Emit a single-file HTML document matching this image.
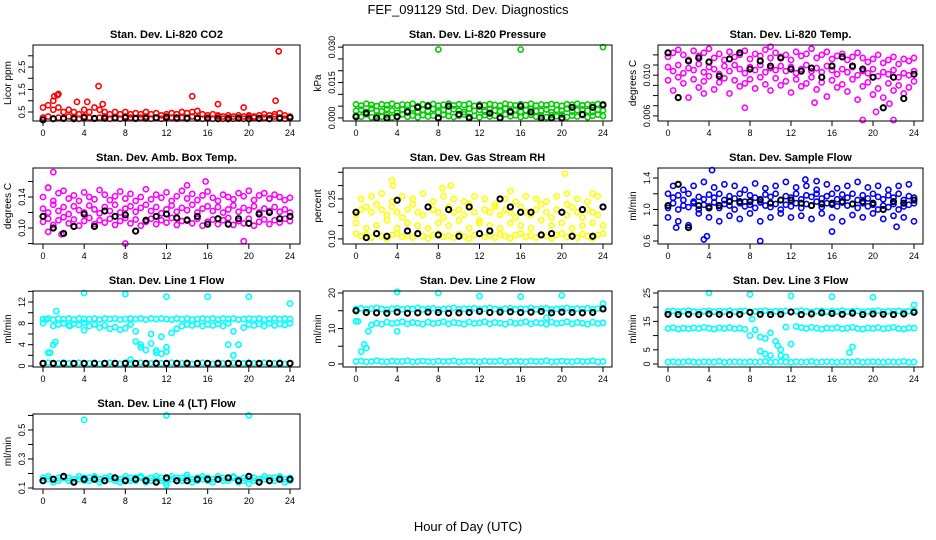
<!DOCTYPE html>
<html><head><meta charset="utf-8"><style>
body{margin:0;background:#fff}
svg{display:block;font-family:"Liberation Sans",sans-serif}
</style></head><body>
<svg id="c" width="936" height="540" viewBox="0 0 936 540">
<text x="468" y="14" font-size="13" text-anchor="middle">FEF_091129  Std. Dev. Diagnostics</text>
<text x="468" y="531" font-size="13" text-anchor="middle">Hour of Day (UTC)</text>
</svg>
<script>
// ---------- DATA (values indexed every 0.5 h for bands, every 1 h for black) ----------
const xTicks=[0,4,8,12,16,20,24];
const co2A=[0.25,0.3,0.2,0.25,0.2,0.3,0.25,0.2,0.3,0.25,0.2,0.25,0.3,0.2,0.25,0.2,0.3,0.25,0.2,0.25,0.3,0.2,0.25,0.2,0.3,0.25,0.2,0.25,0.2,0.3,0.25,0.2,0.25,0.2,0.3,0.2,0.25,0.2,0.25,0.2,0.3,0.25,0.2,0.25,0.2,0.3,0.25,0.2,0.25];
const co2B=[0.7,0.8,0.6,0.7,0.5,0.6,0.5,0.4,0.6,0.5,0.7,0.6,0.5,0.4,0.5,0.4,0.5,0.4,0.45,0.4,0.5,0.4,0.45,0.35,0.4,0.45,0.4,0.5,0.45,0.5,0.55,0.4,0.35,0.4,0.35,0.3,0.35,0.3,0.35,0.3,0.35,0.3,0.35,0.4,0.35,0.4,0.45,0.35,0.3];
const co2Out=[[1,1.0],[1.1,1.2],[1.4,1.25],[1.5,1.3],[5.4,1.65],[5.8,0.85],[4.3,0.95],[3.3,0.95],[14.5,1.2],[17,0.85],[19.5,0.7],[22.9,3.2],[22.6,1.0]];
const co2K=[0.15,0.2,0.22,0.2,0.25,0.22,0.22,0.23,0.25,0.22,0.22,0.24,0.26,0.24,0.23,0.22,0.22,0.2,0.2,0.22,0.2,0.22,0.2,0.22,0.25];

const prA=[0.001,0.0005,0.0015,0.0003,0.001,0.0005,0.0012,0.0002,0.0008,0.0015,0.0005,0.001,0.0003,0.0012,0.0006,0.001,0.0002,0.0014,0.0008,0.0004,0.001,0.0015,0.0005,0.0009,0.0003,0.0012,0.0006,0.001,0.0002,0.0015,0.0007,0.0011,0.0004,0.0009,0.0013,0.0005,0.001,0.0003,0.0012,0.0007,0.0014,0.0004,0.001,0.0006,0.0012,0.0003,0.0009,0.0014,0.0008];
const prB=[0.003,0.0035,0.0025,0.004,0.003,0.0028,0.0038,0.0032,0.0022,0.0036,0.003,0.004,0.0026,0.0034,0.003,0.0038,0.0024,0.0033,0.0029,0.0037,0.0031,0.0025,0.0039,0.003,0.0034,0.0027,0.0036,0.0032,0.0028,0.004,0.003,0.0035,0.0026,0.0033,0.0038,0.0029,0.0031,0.0036,0.0024,0.0034,0.003,0.0039,0.0027,0.0033,0.0036,0.003,0.0025,0.0035,0.0032];
const prC=[0.0058,0.0052,0.006,0.0055,0.005,0.0058,0.0054,0.006,0.0052,0.0057,0.0055,0.006,0.005,0.0058,0.0054,0.0059,0.0052,0.0056,0.006,0.0053,0.0058,0.0055,0.006,0.0051,0.0057,0.0054,0.0059,0.0055,0.0052,0.006,0.0056,0.0053,0.0058,0.0055,0.006,0.0052,0.0057,0.0054,0.0059,0.0055,0.0051,0.0058,0.0056,0.006,0.0053,0.0057,0.0055,0.0059,0.0058];
const prOut=[[8,0.029],[16,0.029],[24,0.030]];
const prK=[0.0005,0.002,0.0,0.0,0.0005,0.0025,0.0045,0.005,0.0,0.005,0.0015,0.0,0.005,0.002,0.0,0.0025,0.005,0.0025,0.0,0.0,0.0,0.0045,0.0015,0.0045,0.0055];

const tA=[0.0118,0.0122,0.0125,0.012,0.0115,0.0124,0.0119,0.0122,0.0126,0.0117,0.0121,0.0115,0.0123,0.0118,0.012,0.0124,0.0116,0.0121,0.0119,0.0125,0.0117,0.0122,0.0118,0.012,0.0115,0.0123,0.0119,0.0121,0.0126,0.0117,0.012,0.0123,0.0116,0.0119,0.0121,0.0115,0.0118,0.0122,0.0117,0.0113,0.0116,0.012,0.0112,0.0115,0.0118,0.0111,0.0116,0.0114,0.0117];
const tB=[0.0108,0.0104,0.011,0.0102,0.0107,0.0105,0.0111,0.0103,0.0108,0.0106,0.0101,0.0109,0.0104,0.011,0.0106,0.0102,0.0108,0.0105,0.011,0.0103,0.0107,0.0105,0.0109,0.0104,0.0108,0.0102,0.0106,0.011,0.0104,0.0107,0.0103,0.0109,0.0105,0.0101,0.0106,0.0103,0.0108,0.01,0.0104,0.0102,0.0106,0.0099,0.0103,0.0101,0.0105,0.0098,0.0102,0.01,0.0104];
const tC=[0.0095,0.0085,0.0098,0.0092,0.0078,0.0096,0.0088,0.0094,0.0099,0.0086,0.0093,0.0097,0.0082,0.0095,0.0089,0.0092,0.0096,0.0087,0.0098,0.0091,0.0085,0.0097,0.009,0.0094,0.0083,0.0096,0.0089,0.0092,0.0098,0.0086,0.0093,0.0079,0.0095,0.0088,0.0091,0.0084,0.0096,0.0076,0.0089,0.0093,0.0081,0.0087,0.0078,0.0092,0.0085,0.009,0.0082,0.0088,0.0094];
const tOut=[[3.5,0.0082],[7.5,0.0068],[14.3,0.0073],[19,0.0056],[20.3,0.0064],[22,0.0056],[21.6,0.0072],[10,0.0128]];
const tK=[0.0122,0.0078,0.0114,0.0117,0.0113,0.0099,0.0116,0.0122,0.0106,0.0114,0.0109,0.0117,0.0106,0.0104,0.0107,0.0098,0.0109,0.0118,0.0109,0.0106,0.0098,0.0068,0.0098,0.0077,0.0101];

const aA=[0.125,0.12,0.13,0.122,0.127,0.118,0.128,0.123,0.12,0.129,0.124,0.119,0.127,0.122,0.13,0.12,0.125,0.128,0.121,0.126,0.13,0.122,0.127,0.119,0.124,0.129,0.121,0.126,0.123,0.13,0.12,0.125,0.128,0.122,0.127,0.12,0.124,0.129,0.121,0.126,0.123,0.128,0.12,0.125,0.122,0.127,0.121,0.124,0.12];
const aB=[0.108,0.112,0.104,0.11,0.114,0.106,0.111,0.103,0.109,0.113,0.105,0.11,0.107,0.112,0.104,0.109,0.113,0.106,0.111,0.103,0.108,0.112,0.105,0.11,0.107,0.113,0.104,0.109,0.111,0.106,0.112,0.103,0.108,0.111,0.105,0.11,0.113,0.104,0.109,0.106,0.112,0.103,0.108,0.111,0.105,0.11,0.107,0.112,0.109];
const aC=[0.14,0.152,0.135,0.145,0.148,0.138,0.142,0.135,0.146,0.14,0.137,0.149,0.143,0.136,0.141,0.147,0.138,0.144,0.135,0.14,0.15,0.137,0.143,0.139,0.146,0.135,0.141,0.148,0.138,0.144,0.136,0.142,0.147,0.139,0.135,0.143,0.14,0.137,0.145,0.141,0.148,0.136,0.142,0.145,0.138,0.143,0.14,0.136,0.139];
const aOut=[[1.0,0.172],[0.5,0.152],[14.0,0.155],[15.8,0.16],[8,0.08],[19.5,0.083],[0.5,0.095],[1.8,0.092]];
const aK=[0.115,0.1,0.093,0.102,0.118,0.102,0.122,0.115,0.117,0.096,0.11,0.115,0.118,0.113,0.11,0.115,0.105,0.112,0.105,0.112,0.106,0.118,0.12,0.112,0.115];

const gA=[0.12,0.11,0.115,0.105,0.12,0.11,0.1,0.115,0.12,0.108,0.113,0.105,0.118,0.11,0.102,0.115,0.12,0.108,0.112,0.105,0.118,0.11,0.1,0.115,0.12,0.107,0.113,0.105,0.118,0.11,0.103,0.115,0.12,0.108,0.112,0.105,0.118,0.11,0.102,0.115,0.12,0.107,0.113,0.105,0.118,0.11,0.102,0.115,0.12];
const gB=[0.19,0.21,0.22,0.2,0.23,0.21,0.19,0.22,0.2,0.18,0.21,0.23,0.2,0.19,0.22,0.21,0.2,0.18,0.22,0.2,0.21,0.19,0.23,0.2,0.17,0.21,0.2,0.22,0.19,0.21,0.2,0.18,0.22,0.2,0.19,0.21,0.23,0.2,0.18,0.21,0.2,0.19,0.22,0.2,0.18,0.21,0.2,0.19,0.22];
const gC=[0.16,0.25,0.14,0.26,0.15,0.27,0.17,0.24,0.14,0.26,0.16,0.25,0.15,0.27,0.14,0.24,0.16,0.26,0.15,0.25,0.17,0.24,0.14,0.26,0.16,0.25,0.15,0.23,0.14,0.25,0.16,0.24,0.15,0.26,0.14,0.25,0.17,0.24,0.15,0.26,0.16,0.23,0.14,0.25,0.15,0.24,0.16,0.26,0.15];
const gOut=[[3.5,0.32],[3.6,0.3],[8.4,0.29],[9.2,0.3],[15,0.28],[20.3,0.345],[20.5,0.27],[23,0.27]];
const gK=[0.2,0.105,0.12,0.11,0.245,0.13,0.12,0.22,0.115,0.21,0.11,0.22,0.12,0.13,0.25,0.22,0.2,0.2,0.115,0.12,0.2,0.11,0.21,0.11,0.22];

const sA=[1.2,1.15,1.18,1.12,1.2,1.1,1.16,1.13,1.19,1.15,1.2,1.12,1.17,1.14,1.2,1.1,1.18,1.15,1.13,1.19,1.16,1.2,1.12,1.17,1.15,1.2,1.13,1.18,1.16,1.2,1.14,1.17,1.2,1.13,1.19,1.15,1.2,1.12,1.18,1.14,1.2,1.16,1.13,1.18,1.15,1.2,1.12,1.17,1.15];
const sB=[1.02,1.08,1.0,1.05,1.03,1.08,1.0,1.06,1.04,1.09,1.02,1.07,1.05,1.0,1.08,1.04,1.06,1.02,1.09,1.05,1.03,1.07,1.0,1.06,1.04,1.08,1.02,1.07,1.05,1.1,1.03,1.08,1.06,1.04,1.09,1.05,1.07,1.02,1.08,1.04,1.06,1.0,1.05,1.03,1.07,1.0,1.04,1.06,1.08];
const sC=[0.9,1.3,0.85,1.25,0.8,1.3,0.95,1.35,0.9,1.28,0.85,1.32,0.92,1.3,0.88,1.25,0.95,1.33,0.85,1.27,0.9,1.3,0.95,1.35,0.9,1.28,0.92,1.3,0.88,1.25,0.95,1.32,0.9,1.27,0.85,1.3,0.93,1.35,0.9,1.28,0.95,1.3,0.88,1.25,0.92,1.3,0.9,1.32,0.85];
const sOut=[[4.3,1.5],[3.5,0.62],[3.8,0.66],[9,0.6],[0.8,0.77],[16,0.72],[22.3,0.78],[14.5,1.36],[13.4,1.38]];
const sK=[1.05,1.32,0.77,1.05,1.02,1.05,1.1,1.1,1.1,1.12,1.08,1.12,1.12,1.08,1.05,1.07,1.08,1.1,1.07,1.1,1.08,1.0,1.1,1.08,1.12];

const l1A=[8.8,8.9,8.7,8.9,8.8,8.9,8.7,8.9,8.8,8.8,8.9,8.7,8.9,8.8,8.9,8.7,8.8,8.9,8.8,8.9,8.7,8.9,8.8,8.9,8.8,8.7,8.9,8.8,8.9,8.7,8.8,8.9,8.8,8.9,8.7,8.9,8.8,8.9,8.7,8.8,8.9,8.8,8.9,8.7,8.8,8.9,8.8,8.9,8.8];
const l1B=[8.0,2.5,7.5,7.8,8.0,7.6,7.9,7.7,8.1,7.5,7.8,7.2,7.6,7.0,7.3,6.8,7.1,7.8,6.5,4.0,3.0,6.0,2.5,5.5,3.5,6.2,7.0,7.5,7.8,7.6,7.9,7.5,7.8,7.6,7.9,7.5,8.0,6.5,4.0,7.2,7.8,7.6,7.9,7.5,8.0,7.6,7.9,7.7,8.0];
const l1C=[0.5,0.6,0.4,0.5,0.6,0.5,0.4,0.6,0.5,0.5,0.6,0.4,0.5,0.6,0.5,0.4,0.6,0.5,0.5,0.6,0.4,0.5,0.6,0.5,0.4,0.6,0.5,0.5,0.6,0.4,0.5,0.6,0.5,0.4,0.6,0.5,0.5,0.6,0.4,0.5,0.6,0.5,0.4,0.6,0.5,0.5,0.6,0.4,0.5];
const l1Out=[[0.3,8.7],[0.7,2.5],[1,4],[1.2,4.5],[1.3,10.3],[4,13.7],[4,6.7],[8,13.5],[8.5,1.2],[9,4.6],[9.5,3.5],[10.5,4.2],[11,2.9],[11.5,2.3],[12,13],[12,2.7],[16,13],[20,13],[24,11.7],[18,4],[18.5,2],[2.6,7.5]];
const l1K=[0.5,0.5,0.5,0.5,0.5,0.5,0.5,0.5,0.5,0.5,0.5,0.5,0.5,0.5,0.5,0.5,0.5,0.5,0.5,0.5,0.5,0.5,0.5,0.5,0.5];

const l2A=[15.5,15.7,15.4,15.6,15.8,15.5,15.3,15.6,15.7,15.4,15.6,15.5,15.8,15.4,15.6,15.7,15.3,15.5,15.6,15.8,15.4,15.6,15.5,15.7,15.4,15.6,15.8,15.5,15.3,15.6,15.7,15.4,15.6,15.5,15.8,15.4,15.6,15.7,15.3,15.5,15.6,15.8,15.4,15.6,15.5,15.7,15.4,15.6,15.8];
const l2B=[12,3.5,4.5,11,11.5,11.2,11.8,11.4,11.6,11.9,11.3,11.7,11.5,11.2,11.8,11.4,11.6,11.9,11.3,11.7,11.5,11.2,11.8,11.4,11.6,11.9,11.3,11.7,11.5,11.2,11.8,11.4,11.6,11.9,11.3,11.7,11.5,11.2,11.8,11.4,11.6,11.9,11.3,11.7,11.5,11.2,11.8,11.4,11.6];
const l2C=[0.7,0.8,0.6,0.7,0.9,0.7,0.6,0.8,0.7,0.7,0.9,0.6,0.7,0.8,0.7,0.6,0.8,0.7,0.7,0.9,0.6,0.7,0.8,0.7,0.6,0.8,0.7,0.7,0.9,0.6,0.7,0.8,0.7,0.6,0.8,0.7,0.7,0.9,0.6,0.7,0.8,0.7,0.6,0.8,0.7,0.7,0.9,0.6,0.7];
const l2Out=[[4,20.3],[8,20],[12,19.1],[16,19],[20,19.3],[4,9.2],[24,17],[0.8,5.5],[1.2,9.2],[18.5,13],[0.2,12]];
const l2K=[15,14.5,14.4,14.3,14.6,14.3,14.4,14.6,14.5,14.3,14.4,14.5,14.8,14.5,14.6,14.7,14.5,14.6,14.8,14.4,14.6,14.5,14.4,14.5,15.5];

const l3A=[18.5,18.7,18.4,18.6,18.8,18.5,18.3,18.6,18.7,18.4,18.6,18.5,18.8,18.4,18.6,18.7,18.3,18.5,18.6,18.8,18.4,18.6,18.5,18.7,18.4,18.6,18.8,18.5,18.3,18.6,18.7,18.4,18.6,18.5,18.8,18.4,18.6,18.7,18.3,18.5,18.6,18.8,18.4,18.6,18.5,18.7,18.4,18.6,18.8];
const l3B=[12.5,12.8,12.3,12.6,12.4,12.7,12.5,12.9,12.6,12.3,12.7,12.5,12.8,12.4,12.6,12.2,10,12,4.5,9,3,8,3,13,7,13.2,12.8,12.5,12.9,12.6,12.3,12.7,12.5,12.8,12.4,12.6,12.9,12.5,12.3,12.7,12.5,12.8,12.4,12.6,12.9,12.5,12.3,12.7,12.6];
const l3C=[0.7,0.8,0.6,0.7,0.9,0.7,0.6,0.8,0.7,0.7,0.9,0.6,0.7,0.8,0.7,0.6,0.8,0.7,0.7,0.9,0.6,0.7,0.8,0.7,0.6,0.8,0.7,0.7,0.9,0.6,0.7,0.8,0.7,0.6,0.8,0.7,0.7,0.9,0.6,0.7,0.8,0.7,0.6,0.8,0.7,0.7,0.9,0.6,0.7];
const l3Out=[[4,25],[8,24.5],[12,24],[16,23.7],[20,23.5],[24,20.8],[8.2,15.8],[10.7,6.5],[11,5],[11.5,2.5],[17.7,4],[18,6],[9.5,3.5],[9,9.5],[10,11]];
const l3K=[17.5,17.4,17.5,17.4,17.6,17.5,17.4,17.5,18.2,17.5,17.4,17.5,18.3,17.4,17.6,18,17.8,17.5,17.9,17.4,17.6,17.5,17.4,17.6,18.2];

const qA=[0.15,0.16,0.14,0.15,0.17,0.15,0.14,0.16,0.15,0.15,0.17,0.14,0.15,0.16,0.15,0.14,0.16,0.15,0.15,0.17,0.14,0.15,0.16,0.15,0.14,0.16,0.15,0.15,0.17,0.14,0.15,0.16,0.15,0.14,0.16,0.15,0.15,0.17,0.14,0.15,0.16,0.15,0.14,0.16,0.15,0.15,0.17,0.14,0.15];
const qB=[0.17,0.18,0.16,0.17,0.18,0.17,0.16,0.18,0.17,0.17,0.18,0.16,0.17,0.18,0.17,0.16,0.18,0.17,0.17,0.18,0.16,0.17,0.18,0.17,0.16,0.18,0.17,0.17,0.19,0.16,0.17,0.18,0.17,0.16,0.18,0.17,0.17,0.18,0.16,0.17,0.18,0.17,0.16,0.18,0.17,0.17,0.18,0.16,0.17];
const qOut=[[4,0.57],[12,0.6],[20,0.6],[20,0.13],[12,0.12]];
const qK=[0.15,0.16,0.18,0.14,0.16,0.16,0.15,0.17,0.15,0.16,0.15,0.14,0.17,0.15,0.15,0.16,0.16,0.16,0.17,0.15,0.18,0.14,0.15,0.16,0.16];

// ---------- LAYOUT ----------
const cols=[{l:33,r:300,x0:43,x1:290},{l:343,r:612,x0:356,x1:603},{l:658,r:923,x0:668,x1:914}];
const rows=[{t:45,b:121},{t:168,b:244},{t:291,b:367},{t:414,b:489}];
const panels=[
 {id:'co2',title:'Stan. Dev. Li-820 CO2',ylab:'Licor ppm',c:0,r:0,ymin:0.1,ymax:3.48,ticks:[0.5,1,1.5,2,2.5,3],labels:[0.5,1.5,2.5],fmt:1,color:'#ff0000',bands:[co2A,co2B],out:co2Out,blk:co2K},
 {id:'pressure',title:'Stan. Dev. Li-820 Pressure',ylab:'kPa',c:1,r:0,ymin:-0.0013,ymax:0.0309,ticks:[0,0.005,0.01,0.015,0.02,0.025,0.03],labels:[0,0.015,0.03],fmt:3,color:'#00cc00',bands:[prA,prB,prC],out:prOut,blk:prK},
 {id:'temp',title:'Stan. Dev. Li-820 Temp.',ylab:'degrees C',c:2,r:0,ymin:0.0055,ymax:0.01297,ticks:[0.006,0.007,0.008,0.009,0.01,0.011,0.012],labels:[0.006,0.01],fmt:3,color:'#ff00ff',bands:[tA,tB,tC],out:tOut,blk:tK},
 {id:'ambtemp',title:'Stan. Dev. Amb. Box Temp.',ylab:'degrees C',c:0,r:1,ymin:0.0794,ymax:0.1774,ticks:[0.08,0.1,0.12,0.14,0.16],labels:[0.1,0.14],fmt:2,color:'#ff00ff',bands:[aA,aB,aC],out:aOut,blk:aK},
 {id:'rh',title:'Stan. Dev. Gas Stream RH',ylab:'percent',c:1,r:1,ymin:0.081,ymax:0.366,ticks:[0.1,0.15,0.2,0.25,0.3,0.35],labels:[0.1,0.25],fmt:2,color:'#ffff00',bands:[gA,gB,gC],out:gOut,blk:gK},
 {id:'sampleflow',title:'Stan. Dev. Sample Flow',ylab:'ml/min',c:2,r:1,ymin:0.562,ymax:1.527,ticks:[0.6,0.8,1,1.2,1.4],labels:[0.6,1,1.4],fmt:1,color:'#0000ff',bands:[sA,sB,sC],out:sOut,blk:sK},
 {id:'line1',title:'Stan. Dev. Line 1 Flow',ylab:'ml/min',c:0,r:2,ymin:-0.19,ymax:14.07,ticks:[0,2,4,6,8,10,12,14],labels:[0,4,8,12],fmt:0,color:'#00ffff',bands:[l1A,l1B,l1C],out:l1Out,blk:l1K},
 {id:'line2',title:'Stan. Dev. Line 2 Flow',ylab:'ml/min',c:1,r:2,ymin:-0.85,ymax:20.56,ticks:[0,5,10,15,20],labels:[0,10,20],fmt:0,color:'#00ffff',bands:[l2A,l2B,l2C],out:l2Out,blk:l2K},
 {id:'line3',title:'Stan. Dev. Line 3 Flow',ylab:'ml/min',c:2,r:2,ymin:-1.06,ymax:25.7,ticks:[0,5,10,15,20,25],labels:[0,5,15,25],fmt:0,color:'#00ffff',bands:[l3A,l3B,l3C],out:l3Out,blk:l3K},
 {id:'line4',title:'Stan. Dev. Line 4 (LT) Flow',ylab:'ml/min',c:0,r:3,ymin:0.093,ymax:0.61,ticks:[0.1,0.2,0.3,0.4,0.5,0.6],labels:[0.1,0.3,0.5],fmt:1,color:'#00ffff',bands:[qA,qB],out:qOut,blk:qK}
];
const NS='http://www.w3.org/2000/svg';
const svg=document.getElementById('c');
function mk(tag,attrs,parent){const e=document.createElementNS(NS,tag);for(const k in attrs)e.setAttribute(k,attrs[k]);(parent||svg).appendChild(e);return e;}
panels.forEach(p=>{
 const C=cols[p.c],R=rows[p.r];
 const xs=h=>C.x0+(C.x1-C.x0)*h/24;
 const ys=v=>R.b-(R.b-R.t)*(v-p.ymin)/(p.ymax-p.ymin);
 const g=mk('g',{});
 
 
 const tt=mk('text',{x:(C.l+C.r)/2,y:R.t-7,'font-size':11,'font-weight':'bold','text-anchor':'middle'},g);
 tt.textContent=p.title;
 
 
 const yl=mk('text',{transform:`translate(${C.l-22},${(R.t+R.b)/2}) rotate(-90)`,'font-size':10,'text-anchor':'middle'},g);
 yl.textContent=p.ylab;
 
 
 const pts=mk('g',{fill:'none','stroke-width':1.6},g);
 
 
 p.bands.forEach(arr=>arr.forEach((v,i)=>{
  const c=mk('circle',{cx:xs(i*0.5),cy:ys(v),r:2.6,stroke:p.color},pts);
  
  
 }));
 p.out.forEach(([h,v])=>{
  const c=mk('circle',{cx:xs(h),cy:ys(v),r:2.6,stroke:p.color},pts);
  
  
 });
 p.blk.forEach((v,i)=>{
  const c=mk('circle',{cx:xs(i),cy:ys(v),r:2.6,stroke:'#000','stroke-width':2},pts);
  
  
 });
 const box=mk('rect',{x:C.l,y:R.t,width:C.r-C.l,height:R.b-R.t,fill:'none',stroke:'#000','stroke-width':1},g);
 
 
 const xa=mk('g',{stroke:'#000','stroke-width':1},g);
 
 
 mk('line',{x1:xs(0),x2:xs(24),y1:R.b,y2:R.b},xa);
 xTicks.forEach(t=>{
  mk('line',{x1:xs(t),x2:xs(t),y1:R.b,y2:R.b+5},xa);
  const tx=mk('text',{x:xs(t),y:R.b+15,'font-size':9,'text-anchor':'middle',stroke:'none'},xa);
  tx.textContent=t;
  
  
 });
 const ya=mk('g',{stroke:'#000','stroke-width':1},g);
 
 
 mk('line',{x1:C.l,x2:C.l,y1:ys(p.ticks[0]),y2:ys(p.ticks[p.ticks.length-1])},ya);
 p.ticks.forEach(t=>mk('line',{x1:C.l-5,x2:C.l,y1:ys(t),y2:ys(t)},ya));
 p.labels.forEach(t=>{
  const tx=mk('text',{transform:`translate(${C.l-8},${ys(t)}) rotate(-90)`,'font-size':9,'text-anchor':'middle',stroke:'none'},ya);
  tx.textContent=t.toFixed(p.fmt);
  
  
 });
});
</script>
</body></html>
